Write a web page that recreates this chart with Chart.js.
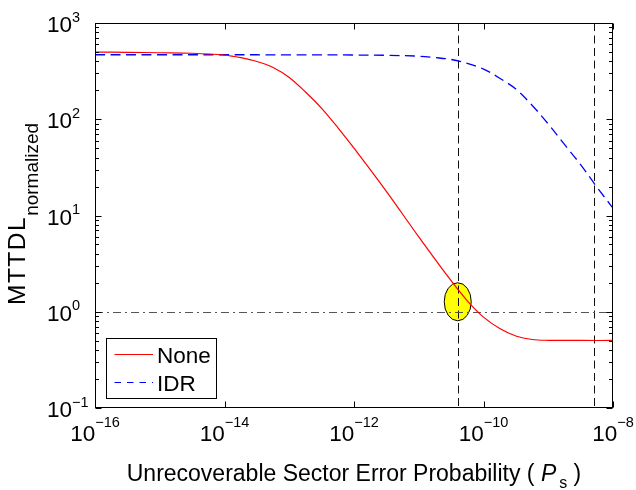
<!DOCTYPE html>
<html>
<head>
<meta charset="utf-8">
<script src="https://cdn.jsdelivr.net/npm/chart.js@4/dist/chart.umd.min.js"></script>
<style>
  body { margin: 0; background: #fff; }
  canvas { display: block; }
</style>
</head>
<body>
<canvas id="mttdlChart" width="636" height="490"></canvas>
<script>
// (Ps on x, normalized MTTDL on y)
const psNone = [1e-16, 3.16e-16, 1e-15, 3.16e-15, 1e-14, 1.78e-14, 3.16e-14, 5.62e-14, 1e-13, 1.78e-13,
    3.16e-13, 5.62e-13, 1e-12, 3.16e-12, 1e-11, 3.16e-11, 5.62e-11, 1e-10, 1.78e-10, 3.16e-10,
    5.62e-10, 1e-9, 3.16e-9, 1e-8];
const mttdlNone = [499, 496, 491, 485, 463, 436, 398, 345, 272, 192,
    130, 82, 50, 17.8, 6.0, 2.10, 1.30, 0.88, 0.67, 0.56,
    0.515, 0.505, 0.503, 0.503];

const psIdr = [1e-16, 1e-15, 1e-14, 1e-13, 1e-12, 3.16e-12, 1e-11, 1.78e-11, 3.16e-11, 5.62e-11,
    1e-10, 1.78e-10, 3.16e-10, 5.62e-10, 1e-9, 1.78e-9, 3.16e-9, 5.62e-9, 1e-8];
const mttdlIdr = [468, 468, 468, 467, 465, 462, 452, 437, 418, 381,
    332, 267, 206, 140, 89.3, 54.7, 33.8, 19.8, 11.9];

const xTickExps = [-16, -14, -12, -10, -8];
const yTickExps = [-1, 0, 1, 2, 3];

const guidePs = [4e-11, 5e-9];   // vertical dashed lines
const guideMttdl = 1;            // horizontal dash-dot line
const markerPs = 4e-11;          // yellow ellipse
const markerMttdl = 1.27;

const FONT = '"Liberation Sans", Arial, Helvetica, sans-serif';
const minus = (e) => (e < 0 ? '\u2212' + (-e) : String(e));

const figurePlugin = {
    id: 'figure',
    beforeDatasetsDraw(chart) {
        const { ctx, chartArea: a, scales: { x, y } } = chart;
        ctx.save();
        // yellow marker
        ctx.beginPath();
        ctx.ellipse(x.getPixelForValue(markerPs), y.getPixelForValue(markerMttdl), 13.5, 19, 0, 0, Math.PI * 2);
        ctx.fillStyle = '#ffff00';
        ctx.fill();
        ctx.lineWidth = 1;
        ctx.strokeStyle = '#000';
        ctx.stroke();
        // vertical guides
        ctx.setLineDash([8, 4.5]);
        ctx.strokeStyle = '#111';
        guidePs.forEach(v => {
            const px = Math.round(x.getPixelForValue(v)) + 0.5;
            ctx.beginPath();
            ctx.moveTo(px, a.top);
            ctx.lineTo(px, a.bottom);
            ctx.stroke();
        });
        // horizontal guide
        ctx.setLineDash([8, 4, 2, 4]);
        ctx.strokeStyle = '#555';
        const py = Math.round(y.getPixelForValue(guideMttdl)) + 0.5;
        ctx.beginPath();
        ctx.moveTo(a.left, py);
        ctx.lineTo(a.right, py);
        ctx.stroke();
        ctx.restore();
    },
    afterDraw(chart) {
        const { ctx, chartArea: a, scales: { x, y } } = chart;
        ctx.save();
        ctx.fillStyle = '#000';
        ctx.strokeStyle = '#000';
        ctx.lineWidth = 1;

        // axes box
        const L = Math.round(a.left) + 0.5, R = Math.round(a.right) - 0.5;
        const T = Math.round(a.top) + 0.5, B = Math.round(a.bottom) - 0.5;
        ctx.strokeRect(L, T, R - L, B - T);

        // x ticks (inward, top and bottom)
        ctx.beginPath();
        xTickExps.forEach(e => {
            const px = Math.round(x.getPixelForValue(10 ** e)) + 0.5;
            ctx.moveTo(px, B); ctx.lineTo(px, B - 6);
            ctx.moveTo(px, T); ctx.lineTo(px, T + 6);
        });
        // y ticks, major + minor
        for (let e = -1; e <= 3; e++) {
            for (let m = 1; m <= 9; m++) {
                const v = m * 10 ** e;
                if (v > 1000) break;
                const py = Math.round(y.getPixelForValue(v)) + 0.5;
                const len = m === 1 ? 6 : 3.5;
                ctx.moveTo(L, py); ctx.lineTo(L + len, py);
                ctx.moveTo(R, py); ctx.lineTo(R - len, py);
            }
        }
        ctx.stroke();

        // tick labels
        ctx.textBaseline = 'alphabetic';
        const big = '22.5px ' + FONT, small = '14.5px ' + FONT;
        xTickExps.forEach(e => {
            const px = x.getPixelForValue(10 ** e);
            ctx.font = big;
            const w1 = ctx.measureText('10').width;
            ctx.font = small;
            const w2 = ctx.measureText(minus(e)).width;
            const x0 = px - (w1 + w2) / 2;
            ctx.textAlign = 'left';
            ctx.font = big;
            ctx.fillText('10', x0, a.bottom + 33);
            ctx.font = small;
            ctx.fillText(minus(e), x0 + w1, a.bottom + 19);
        });
        yTickExps.forEach(e => {
            const py = y.getPixelForValue(10 ** e);
            const xr = a.left - 23;
            ctx.font = big;
            ctx.textAlign = 'right';
            ctx.fillText('10', xr, py + 9);
            ctx.font = small;
            ctx.textAlign = 'left';
            ctx.fillText(minus(e), xr, py - 1.5);
        });

        // x title
        const part1 = 'Unrecoverable Sector Error Probability ( ';
        const norm = '23px ' + FONT, it = 'italic 23px ' + FONT, sub = '16px ' + FONT;
        ctx.font = norm; const wa = ctx.measureText(part1).width;
        ctx.font = it; const wb = ctx.measureText('P').width;
        ctx.font = sub; const wc = ctx.measureText('s').width;
        ctx.font = norm; const wd = ctx.measureText(' )').width;
        let cx = (a.left + a.right) / 2 - (wa + wb + 3 + wc + wd) / 2;
        const by = 481;
        ctx.textAlign = 'left';
        ctx.font = norm; ctx.fillText(part1, cx, by); cx += wa;
        ctx.font = it; ctx.fillText('P', cx, by); cx += wb + 3;
        ctx.font = sub; ctx.fillText('s', cx, by + 7); cx += wc;
        ctx.font = norm; ctx.fillText(' )', cx, by);

        // y title
        ctx.save();
        ctx.translate(25, 305);
        ctx.rotate(-Math.PI / 2);
        ctx.font = '24.5px ' + FONT;
        ctx.letterSpacing = '1.5px';
        ctx.fillText('MTTDL', 0, 0);
        const wm = ctx.measureText('MTTDL').width;
        ctx.letterSpacing = '0px';
        ctx.font = '19px ' + FONT;
        ctx.fillText('normalized', wm, 13);
        ctx.restore();

        // legend
        const lx = 106.5, ly = 338.5, lw = 110, lh = 60;
        ctx.fillStyle = '#fff';
        ctx.fillRect(lx, ly, lw, lh);
        ctx.strokeStyle = '#000';
        ctx.setLineDash([]);
        ctx.strokeRect(lx, ly, lw, lh);
        const rows = [354.5, 382.5];
        const legendDash = [[], [6.5, 6]];
        chart.data.datasets.forEach((ds, i) => {
            ctx.beginPath();
            ctx.setLineDash(legendDash[i]);
            ctx.strokeStyle = ds.borderColor;
            ctx.lineWidth = 1.2;
            ctx.moveTo(114.5, rows[i]);
            ctx.lineTo(153, rows[i]);
            ctx.stroke();
            ctx.setLineDash([]);
            ctx.fillStyle = '#000';
            ctx.font = big;
            ctx.textAlign = 'left';
            ctx.fillText(ds.label, 157, rows[i] + 8);
        });
        ctx.restore();
    }
};

const ctx = document.getElementById('mttdlChart').getContext('2d');
const mttdlChart = new Chart(ctx, {
    type: 'scatter',
    data: {
        datasets: [{
            label: 'None',
            data: psNone.map((p, i) => ({ x: p, y: mttdlNone[i] })),
            borderColor: '#ff0000',
            borderWidth: 1.2,
            showLine: true,
            pointRadius: 0,
            tension: 0.35
        }, {
            label: 'IDR',
            data: psIdr.map((p, i) => ({ x: p, y: mttdlIdr[i] })),
            borderColor: '#0000ff',
            borderWidth: 1.3,
            borderDash: [10, 5.5],
            showLine: true,
            pointRadius: 0,
            tension: 0.35
        }]
    },
    options: {
        responsive: false,
        animation: false,
        devicePixelRatio: 1,
        layout: { padding: { left: 95, right: 23, top: 23, bottom: 82 } },
        plugins: { legend: { display: false }, tooltip: { enabled: false } },
        scales: {
            x: { type: 'logarithmic', min: 1e-16, max: 1e-8, display: false },
            y: { type: 'logarithmic', min: 0.1, max: 1000, display: false }
        }
    },
    plugins: [figurePlugin]
});
</script>
</body>
</html>
